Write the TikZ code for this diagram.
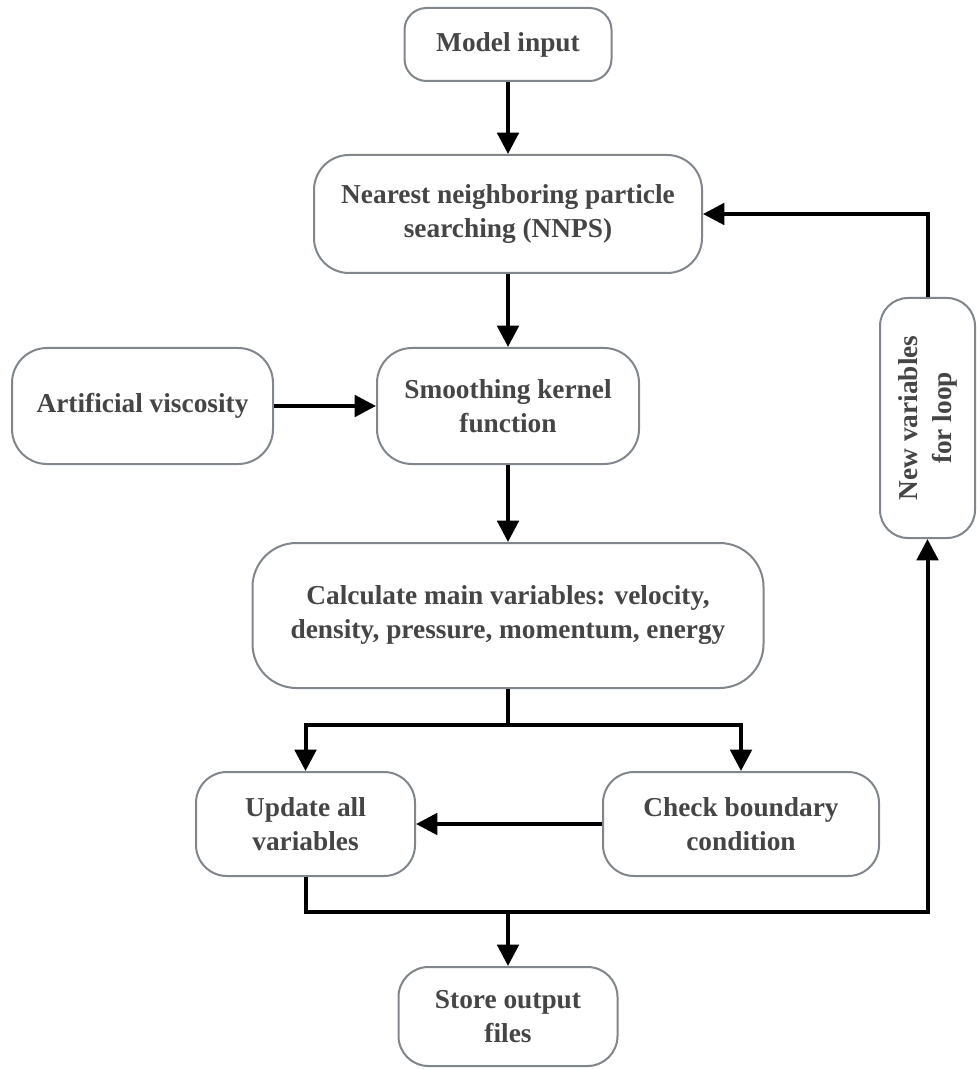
\documentclass[tikz,border=0pt]{standalone}
\usepackage{fontspec}
\setmainfont{Liberation Serif}
\usetikzlibrary{arrows.meta}
\definecolor{boxgray}{HTML}{80868B}
\definecolor{textgray}{HTML}{454545}

\begin{document}
\begin{tikzpicture}[x=0.75pt,y=-0.75pt,
    box/.style={draw=boxgray, line width=1.5pt, fill=white, align=center, inner sep=0pt,
        text=textgray, font=\bfseries\fontsize{20.5}{25.5}\selectfont},
    arr/.style={-{Triangle[length=16pt,width=16pt]}, line width=3pt}]
    \useasboundingbox (0,0) rectangle (976,1069);

    % Draw boxes
    \node[box, minimum width=207*0.75pt, minimum height=73*0.75pt, rounded corners=22*0.75pt] (input) at (508,44.5) {Model input};
    \node[box, minimum width=388*0.75pt, minimum height=118*0.75pt, rounded corners=35*0.75pt] (nnps) at (508,214) {Nearest neighboring particle\\searching (NNPS)};
    \node[box, minimum width=261*0.75pt, minimum height=116*0.75pt, rounded corners=35*0.75pt] (visc) at (142.5,406) {Artificial viscosity};
    \node[box, minimum width=262*0.75pt, minimum height=116*0.75pt, rounded corners=35*0.75pt] (kernel) at (508,406) {Smoothing kernel\\function};
    \node[box, minimum width=511*0.75pt, minimum height=145*0.75pt, rounded corners=44*0.75pt] (calc) at (508,615.5) {Calculate main variables: velocity,\\density, pressure, momentum, energy};
    \node[box, minimum width=219*0.75pt, minimum height=104*0.75pt, rounded corners=31*0.75pt] (update) at (305.5,824) {Update all\\variables};
    \node[box, minimum width=276*0.75pt, minimum height=104*0.75pt, rounded corners=31*0.75pt] (check) at (741,824) {Check boundary\\condition};
    \node[box, minimum width=219*0.75pt, minimum height=99*0.75pt, rounded corners=30*0.75pt] (store) at (508,1016.5) {Store output\\files};
    \node[box, rotate=90, minimum width=240*0.75pt, minimum height=95*0.75pt, rounded corners=28*0.75pt] (newvar) at (927.5,418) {New variables\\for loop};

    % Draw junctions
    \coordinate (split) at (508,725);
    \coordinate (bus) at (508,912);

    % Draw arrows
    \draw[arr] (input) -- (nnps);
    \draw[arr] (nnps) -- (kernel);
    \draw[arr] (visc) -- (kernel);
    \draw[arr] (kernel) -- (calc);
    \draw[line width=3pt] (calc) -- (split);
    \draw[arr] (split) -| (update.north);
    \draw[arr] (split) -| (check.north);
    \draw[arr] (check) -- (update);
    \draw[arr] (update.south) |- (bus) -| (newvar.west);
    \draw[arr] (bus) -- (store);
    \draw[arr] (newvar.east) |- (nnps.east);
\end{tikzpicture}
\end{document}
